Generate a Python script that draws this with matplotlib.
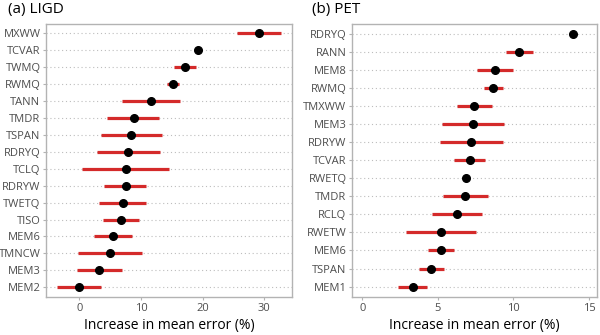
import numpy as np
import matplotlib
matplotlib.use("Agg")
import matplotlib.pyplot as plt

plt.rcParams['font.family'] = ['Open Sans', 'DejaVu Sans']

# (a) LIGD - top to bottom
ligd_vars = ['MXWW', 'TCVAR', 'TWMQ', 'RWMQ', 'TANN', 'TMDR', 'TSPAN', 'RDRYQ',
             'TCLQ', 'RDRYW', 'TWETQ', 'TISO', 'MEM6', 'TMNCW', 'MEM3', 'MEM2']
ligd_mean = [29.2, 19.3, 17.1, 15.2, 11.6, 8.8, 8.4, 7.9, 7.5, 7.5, 7.1, 6.7, 5.5, 5.0, 3.2, 0.0]
ligd_low = [25.6, 19.3, 15.3, 14.3, 6.9, 4.5, 3.5, 2.8, 0.5, 4.0, 3.2, 3.8, 2.4, -0.2, -0.4, -3.6]
ligd_high = [32.7, 19.3, 19.0, 16.2, 16.3, 12.9, 13.4, 13.1, 14.5, 10.9, 10.9, 9.7, 8.6, 10.1, 7.0, 3.6]

# (b) PET - top to bottom
pet_vars = ['RDRYQ', 'RANN', 'MEM8', 'RWMQ', 'TMXWW', 'MEM3', 'RDRYW', 'TCVAR',
            'RWETQ', 'TMDR', 'RCLQ', 'RWETW', 'MEM6', 'TSPAN', 'MEM1']
pet_mean = [13.96, 10.35, 8.81, 8.67, 7.41, 7.30, 7.21, 7.10, 6.84, 6.81, 6.24, 5.20, 5.18, 4.56, 3.34]
pet_low = [13.96, 9.49, 7.61, 8.08, 6.26, 5.29, 5.11, 6.06, 6.84, 5.33, 4.60, 2.90, 4.31, 3.72, 2.37]
pet_high = [13.96, 11.26, 9.96, 9.31, 8.61, 9.36, 9.31, 8.14, 6.84, 8.34, 7.90, 7.50, 6.08, 5.40, 4.27]

red = '#d42a2a'
grey = '#4d4d4d'
frame = '#b3b3b3'


def panel(ax, names, mean, low, high, xlim, xticks):
    n = len(names)
    y = np.arange(n)[::-1] + 1
    for yy in y:
        ax.axhline(yy, color='#bdbdbd', lw=0.8, ls=(0, (1, 2.5)), zorder=0)
    ax.hlines(y, low, high, color=red, lw=2.3, zorder=2)
    ax.plot(mean, y, 'o', color='black', ms=5.5, zorder=3)
    ax.set_yticks(y)
    ax.set_yticklabels(names)
    ax.set_ylim(0.42, n + 0.56)
    ax.set_xlim(*xlim)
    ax.set_xticks(xticks)
    ax.set_xlabel('Increase in mean error (%)', fontsize=10, color='black', labelpad=3)
    ax.tick_params(colors=grey, labelsize=8, length=2.5, width=0.8, pad=1.5)
    ax.tick_params(axis='x', pad=2)
    ax.tick_params(axis='both', color=frame)
    for s in ax.spines.values():
        s.set_color(frame)
        s.set_linewidth(1.0)


fig = plt.figure(figsize=(6, 3.35), dpi=100)
ax1 = fig.add_axes([46 / 600, 1 - 297 / 335, 246 / 600, 273 / 335])
ax2 = fig.add_axes([352 / 600, 1 - 297 / 335, 245 / 600, 273 / 335])

panel(ax1, ligd_vars, ligd_mean, ligd_low, ligd_high, (-5.4, 34.5), [0, 10, 20, 30])
panel(ax2, pet_vars, pet_mean, pet_low, pet_high, (-0.69, 15.53), [0, 5, 10, 15])

fig.text(8 / 600, 1 - 10 / 335, '(a) LIGD', fontsize=11, va='center', ha='left')
fig.text(312 / 600, 1 - 10 / 335, '(b) PET', fontsize=11, va='center', ha='left')

fig.savefig('out.png', dpi=100)
